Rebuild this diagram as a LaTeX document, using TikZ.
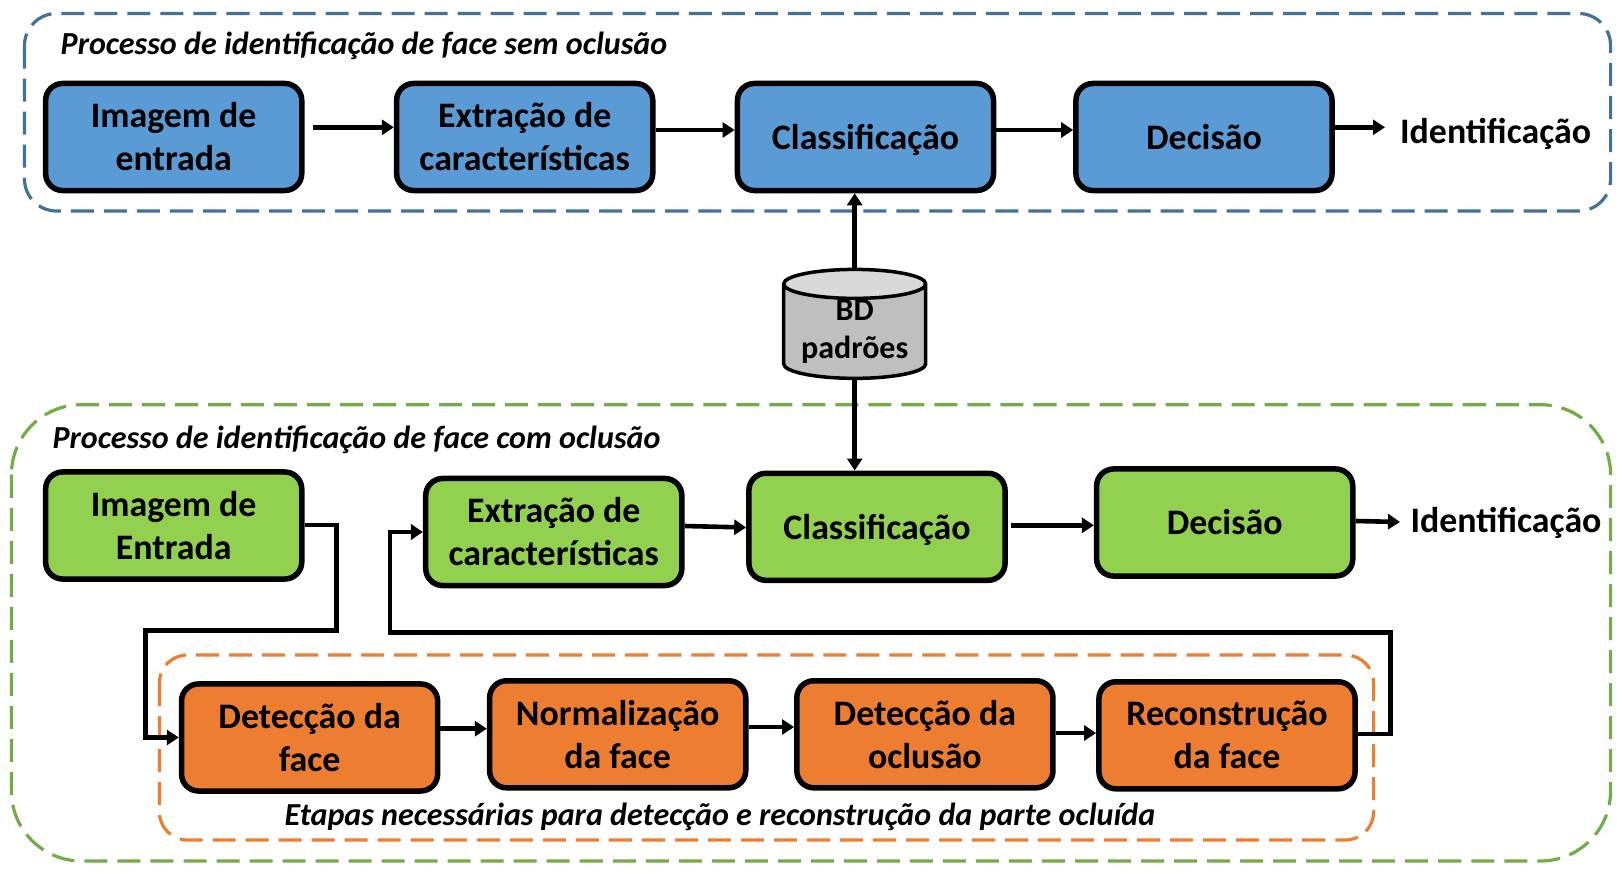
\documentclass[tikz,border=0pt]{standalone}
\usepackage{fontspec}
\setmainfont{Carlito}
\usetikzlibrary{arrows.meta, positioning, calc, shapes.geometric}
\definecolor{cblue}{HTML}{5B9BD5}
\definecolor{cgreen}{HTML}{92D050}
\definecolor{corange}{HTML}{ED7D31}
\definecolor{frameblue}{HTML}{41719C}
\definecolor{framegreen}{HTML}{70AD47}
\definecolor{framegray}{HTML}{BFBFBF}
\definecolor{lightgray}{HTML}{D9D9D9}
\tikzset{
  procbox/.style={draw=black, line width=0.055cm, rounded corners=0.17cm,
    minimum width=2.56cm, minimum height=1.07cm, inner sep=0pt, align=center,
    font=\fontsize{10.2}{12.25}\selectfont\bfseries},
  bluebox/.style={procbox, fill=cblue},
  greenbox/.style={procbox, fill=cgreen},
  orangebox/.style={procbox, fill=corange},
  frame/.style={line width=0.032cm, dash pattern=on 0.23cm off 0.1cm},
  flow/.style={draw=black, line width=0.046cm, -{Triangle[length=0.12cm, width=0.15cm]}},
  outtext/.style={font=\fontsize{10.2}{12.5}\selectfont\bfseries},
  title/.style={anchor=base west, inner sep=0pt, font=\fontsize{9.12}{11}\selectfont\bfseries\itshape}
}

\begin{document}
\begin{tikzpicture}[x=0.01cm, y=-0.01cm]
  \useasboundingbox (0,0) rectangle (1623,894);

  % Dashed frames
  \draw[frame, frameblue, rounded corners=0.32cm] (24.5,13.5) rectangle (1610.6,211);
  \draw[frame, framegreen, rounded corners=0.7cm] (11.4,404.7) rectangle (1610.6,861);
  \draw[frame, corange, rounded corners=0.28cm] (159.4,655) rectangle (1373.6,840);

  \node[title] (tsem) at (60,54.5) {Processo de identificação de face sem oclusão};
  \node[title] (tcom) at (51.8,448.5) {Processo de identificação de face com oclusão};
  \node[title] (tetapas) at (284,825.5) {Etapas necessárias para detecção e reconstrução da parte ocluída};

  % Top row
  \node[bluebox] (img1) at (173.7,137) {Imagem de\\entrada};
  \node[bluebox] (ext1) at (524.7,137) {Extração de\\características};
  \node[bluebox, text depth=0pt] (cla1) at (865.5,137) {Classificação};
  \node[bluebox] (dec1) at (1204,137) {Decisão};
  \node[outtext] (id1) at (1495.6,134) {Identificação};

  % Database
  \node[draw=black, line width=0.035cm, shape=cylinder, shape border rotate=90, aspect=0.27,
    cylinder uses custom fill, cylinder body fill=framegray, cylinder end fill=lightgray,
    minimum width=1.42cm, minimum height=1.02cm, inner sep=0pt, align=center,
    font=\fontsize{9.1}{10.8}\selectfont\bfseries] (bd) at (854.7,332) {BD\\padrões};

  % Lower row
  \node[greenbox] (img2) at (173.7,525.5) {Imagem de\\Entrada};
  \node[greenbox] (ext2) at (553.8,532) {Extração de\\características};
  \node[greenbox, text depth=0pt] (cla2) at (877,526.8) {Classificação};
  \node[greenbox] (dec2) at (1224.7,522.5) {Decisão};
  \node[outtext] (id2) at (1506,522.5) {Identificação};

  % Occlusion steps
  \node[orangebox] (det) at (309.6,737.5) {Detecção da\\face};
  \node[orangebox] (nor) at (617.7,734.3) {Normalização\\da face};
  \node[orangebox] (ocl) at (924.9,734.3) {Detecção da\\oclusão};
  \node[orangebox] (rec) at (1227,735.3) {Reconstrução\\da face};

  % Free ends
  \coordinate (s1) at (313,127.3);
  \coordinate (s2) at (1335,127.3);
  \coordinate (e2) at (1385,127.3);
  \coordinate (s3) at (1011,525.3);
  \coordinate (e3) at (1400,522);
  \coordinate (s4) at (440,728.7);
  \coordinate (s5) at (748.5,727);

  % Arrows
  \draw[flow] (s1) -- (s1 -| ext1.west);
  \draw[flow] (ext1.east |- 0,130) -- (cla1.west |- 0,130);
  \draw[flow] (cla1.east |- 0,130) -- (dec1.west |- 0,130);
  \draw[flow] (s2) -- (e2);
  \draw[flow] (bd.north) -- (bd.north |- cla1.south);
  \draw[flow] (bd.south) -- (bd.south |- cla2.north);
  \draw[flow] (ext2.east |- 0,526) -- (cla2.west |- 0,527.5);
  \draw[flow] (s3) -- (s3 -| dec2.west);
  \draw[flow] (dec2.east |- 0,521) -- (e3);
  \draw[flow] (s4) -- (s4 -| nor.west);
  \draw[flow] (s5) -- (s5 -| ocl.west);
  \draw[flow] (ocl.east |- 0,733) -- (rec.west |- 0,733);

  % Elbows
  \draw[flow] (img2.east |- 0,525) -- (336.7,525) -- (336.7,630.7) -- (145.4,630.7) -- (145.4,737.5) -- (det.west);
  \draw[flow] (rec.east |- 0,734) -- (1390.5,734) -- (1390.5,632.3) -- (390,632.3) -- (390,532) -- (ext2.west);
\end{tikzpicture}
\end{document}
